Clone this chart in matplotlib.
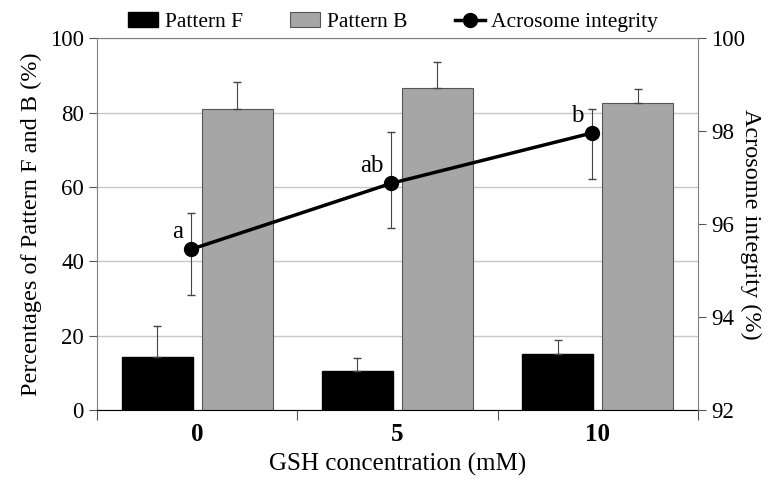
import matplotlib
matplotlib.use("Agg")
import matplotlib.pyplot as plt
import numpy as np

plt.rcParams['font.family'] = ['Liberation Serif', 'DejaVu Serif']

conc = ['0', '5', '10']
pattern_f = [14.3, 10.4, 15.2]
pattern_f_err = [8.4, 3.7, 3.7]
pattern_b = [81.1, 86.5, 82.7]
pattern_b_err = [7.0, 7.1, 3.7]
acrosome = [95.46, 96.88, 97.96]
acrosome_err_low = [0.99, 0.97, 0.99]
acrosome_err_high = [0.78, 1.10, 0.51]
letters = ['a', 'ab', 'b']

x = np.arange(len(conc))

fig = plt.figure(figsize=(7.71, 4.90), dpi=100)
ax = fig.add_axes([0.126, 0.163, 0.779, 0.759])

w = 0.355
ax.bar(x - 0.2, pattern_f, w, color='black', edgecolor='black', label='Pattern F', zorder=2)
ax.errorbar(x - 0.2, pattern_f, yerr=[np.zeros(3), pattern_f_err], fmt='none',
            ecolor='#444444', elinewidth=0.8, capsize=3, zorder=3)
ax.bar(x + 0.2, pattern_b, w, color='#a6a6a6', edgecolor='#555555', linewidth=0.8,
       label='Pattern B', zorder=2)
ax.errorbar(x + 0.2, pattern_b, yerr=[np.zeros(3), pattern_b_err], fmt='none',
            ecolor='#444444', elinewidth=0.8, capsize=3, zorder=3)

ax.set_ylim(0, 100)
ax.set_xlim(-0.5, 2.5)
ax.set_yticks([0, 20, 40, 60, 80, 100])
ax.yaxis.grid(True, color='#c8c8c8', linewidth=1.0, zorder=0)
ax.set_axisbelow(True)
ax.set_xticks([-0.5, 0.5, 1.5, 2.5])
ax.set_xticklabels([])
ax.set_xticks(x, minor=True)
ax.set_xticklabels(conc, minor=True, fontsize=18, fontweight='bold')
ax.tick_params(axis='x', which='major', direction='out', length=7, color='#555555')
ax.tick_params(axis='x', which='minor', length=0, pad=9)
ax.tick_params(axis='y', direction='out', length=6, labelsize=16.5, color='#555555')
ax.set_xlabel('GSH concentration (mM)', fontsize=18, labelpad=5)
ax.set_ylabel('Percentages of Pattern F and B (%)', fontsize=17.5, labelpad=6)
ax.spines['top'].set_color('#808080')
ax.spines['left'].set_color('#808080')
ax.spines['right'].set_visible(False)
ax.spines['bottom'].set_color('black')

ax2 = ax.twinx()
ax2.errorbar(x - 0.03, acrosome, yerr=[acrosome_err_low, acrosome_err_high], fmt='none',
             ecolor='#444444', elinewidth=0.8, capsize=3, zorder=3)
ax2.plot(x - 0.03, acrosome, color='black', linewidth=2.5, marker='o', markersize=10,
         label='Acrosome integrity', zorder=4)
for xi, yi, t in zip(x, acrosome, letters):
    ax2.text(xi - 0.07, yi + 0.13, t, fontsize=18, ha='right', va='bottom')
ax2.set_ylim(92, 100)
ax2.set_yticks([92, 94, 96, 98, 100])
ax2.tick_params(axis='y', direction='out', length=6, labelsize=16.5, color='#555555')
ax2.set_ylabel('Acrosome integrity (%)', fontsize=17.5, rotation=270, labelpad=12)
for s in ['top', 'left', 'bottom']:
    ax2.spines[s].set_visible(False)
ax2.spines['right'].set_color('#808080')

h1, l1 = ax.get_legend_handles_labels()
h2, l2 = ax2.get_legend_handles_labels()
fig.legend(h1 + h2, l1 + l2, loc='upper center', bbox_to_anchor=(0.51, 1.015), ncol=3,
           frameon=False, fontsize=15.5, handlelength=1.4, columnspacing=2.2,
           handletextpad=0.3)

fig.savefig('out.png', dpi=100)
